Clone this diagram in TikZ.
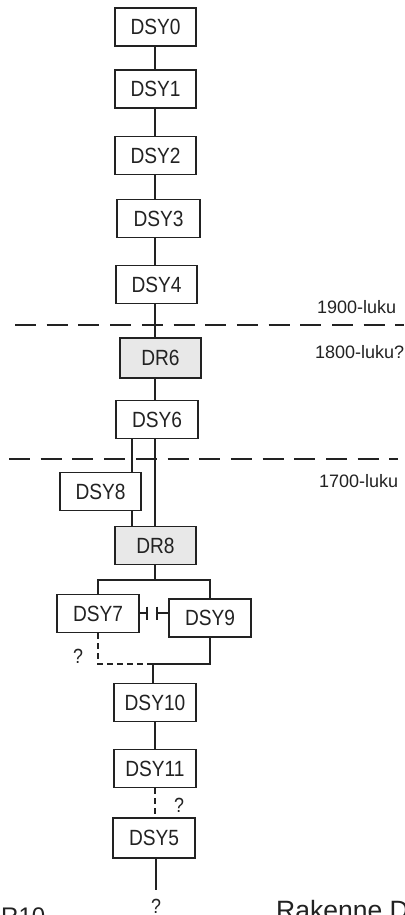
\documentclass[tikz,border=0pt]{standalone}
\usepackage{fontspec}
\setmainfont{Liberation Sans}
\newfontfamily\condfont[FakeStretch=0.87]{Liberation Sans}
\definecolor{ink}{HTML}{222222}
\definecolor{boxfill}{HTML}{E8E8E8}
\tikzset{
  dbox/.style={draw=ink, line width=1.3pt, minimum height=38pt, minimum width=81pt, inner sep=0pt,
    font=\condfont\fontsize{22}{22}\selectfont, text=ink},
  gbox/.style={dbox, fill=boxfill},
  conn/.style={draw=ink, line width=1.8pt},
  sdash/.style={conn, dash pattern=on 6pt off 4pt},
  era/.style={draw=ink, line width=1.8pt, dash pattern=on 21pt off 10.7pt},
  eratext/.style={anchor=base west, inner sep=0pt, font=\fontsize{18}{18}\selectfont, text=ink},
  qmark/.style={anchor=base, inner sep=0pt, font=\condfont\fontsize{20.5}{20.5}\selectfont, text=ink},
  captxt/.style={anchor=base west, inner sep=0pt, text=ink}
}
\begin{document}
\begin{tikzpicture}[x=1pt,y=-1pt]
\clip (0,0) rectangle (404,915);
\fill[white] (0,0) rectangle (404,915);
\coordinate (sp) at (155,0);
% boxes
\node[dbox] (b0) at (155.5,27) {DSY0};
\node[dbox] (b1) at (155.5,89) {DSY1};
\node[dbox] (b2) at (155.5,155.5) {DSY2};
\node[dbox, minimum width=83pt] (b3) at (158.5,218.5) {DSY3};
\node[dbox] (b4) at (156.5,284.5) {DSY4};
\node[gbox, minimum height=40pt] (r6) at (160.5,358) {DR6};
\node[dbox, minimum width=82pt] (b6) at (157,419.5) {DSY6};
\node[dbox] (b8) at (100.5,491.5) {DSY8};
\node[gbox] (r8) at (155.5,545.5) {DR8};
\node[dbox, minimum width=82pt] (b7) at (98,613.5) {DSY7};
\node[dbox, minimum width=82pt] (b9) at (210,618) {DSY9};
\node[dbox, minimum width=82pt] (b10) at (155,702.5) {DSY10};
\node[dbox, minimum width=82pt] (b11) at (155,768.5) {DSY11};
\node[dbox, minimum width=82pt, minimum height=40pt] (b5) at (154,838) {DSY5};
% era lines
\coordinate (e1a) at (15,325);
\coordinate (e1b) at (404,325);
\coordinate (e2a) at (9,459);
\coordinate (e2b) at (398,459);
\draw[era] (e1a) -- (e1b);
\draw[era] (e2a) -- (e2b);
% spine
\draw[conn] (b0.south -| sp) -- (b1.north -| sp);
\draw[conn] (b1.south -| sp) -- (b2.north -| sp);
\draw[conn] (b2.south -| sp) -- (b3.north -| sp);
\draw[conn] (b3.south -| sp) -- (b4.north -| sp);
\draw[conn] (b4.south -| sp) -- (r6.north -| sp);
\draw[conn] (r6.south -| sp) -- (b6.north -| sp);
\draw[conn] (b6.south -| sp) -- (r8.north -| sp);
\coordinate (side) at (132,0);
\draw[conn] (b6.south -| side) -- (b8.north -| side);
\draw[conn] (b8.south -| side) -- (r8.north -| side);
% split below DR8
\coordinate (split) at (155,580);
\draw[conn] (r8.south -| sp) -- (split);
\draw[conn] (b7.north) |- (split) -| (b9.north);
% link DSY7 - DSY9
\coordinate (ta) at (147,613);
\coordinate (tb) at (157,613);
\draw[conn, line width=1.6pt] (b7.east |- ta) -- (ta);
\draw[conn, line width=1.6pt] (ta) ++(0,-6.5) -- ++(0,13);
\draw[conn, line width=1.6pt] (tb) -- (b9.west |- tb);
\draw[conn, line width=1.6pt] (tb) ++(0,-6.5) -- ++(0,13);
% merge
\coordinate (merge) at (153,664);
\draw[sdash] (b7.south) |- (merge);
\draw[conn] (merge) -| (b9.south);
\draw[conn] (merge) -- (b10.north -| merge);
\draw[conn] (b10.south -| sp) -- (b11.north -| sp);
\draw[sdash] (b11.south -| sp) -- (b5.north -| sp);
\coordinate (qend) at (156,890);
\draw[conn] (b5.south -| qend) -- (qend);
% labels
\node[eratext] (t19) at (317,313) {1900-luku};
\node[eratext] (t18) at (315,358) {1800-luku?};
\node[eratext] (t17) at (319,487) {1700-luku};
\node[qmark] (q1) at (78,663) {?};
\node[qmark] (q2) at (179,812) {?};
\node[qmark] (q3) at (156,913) {?};
\node[captxt, font=\fontsize{24}{24}\selectfont] (cap1) at (1,924.5) {R10};
\node[captxt, font=\fontsize{26.5}{26.5}\selectfont] (cap2) at (276,919.5) {Rakenne D};
\end{tikzpicture}
\end{document}
